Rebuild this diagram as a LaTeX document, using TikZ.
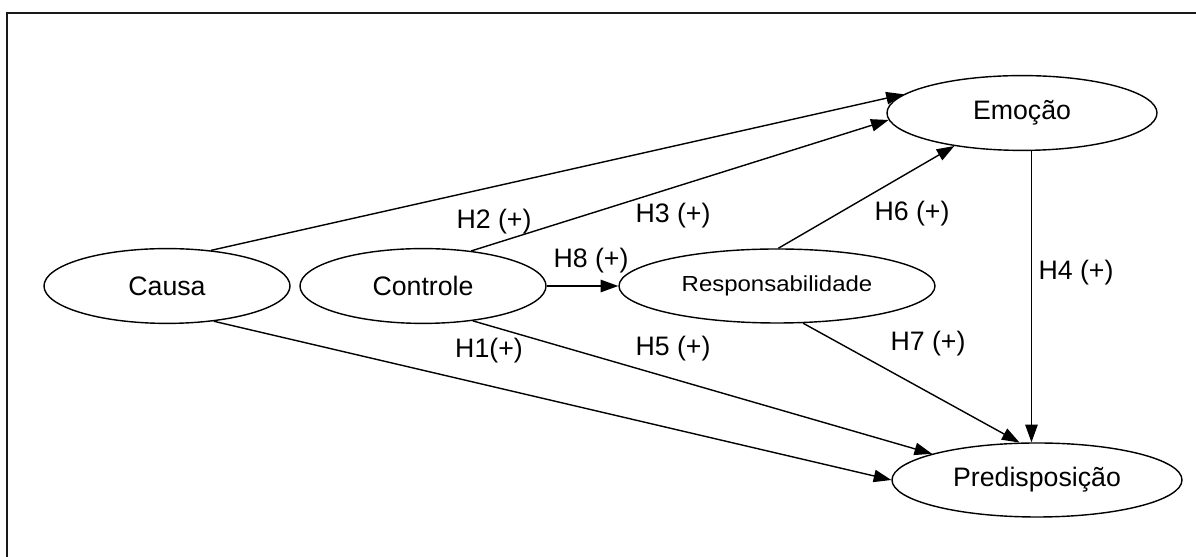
\documentclass[tikz,border=0pt]{standalone}
\usepackage{fontspec}
\setmainfont{Liberation Sans}
\newfontfamily\respfont[FakeStretch=1.1]{Liberation Sans}
\usetikzlibrary{arrows.meta, positioning, shapes.geometric}

\begin{document}
\begin{tikzpicture}[
    construct/.style={draw, ellipse, line width=1pt, inner sep=0pt,
      minimum height=1.87cm, font=\fontsize{19}{22}\selectfont},
    hyp/.style={line width=1pt, -{Triangle[length=0.44cm, width=0.31cm]}},
    hlabel/.style={font=\fontsize{19}{22}\selectfont, inner sep=0pt}
  ]
  \useasboundingbox (0,0) rectangle (29.9,13.925);
  \clip (0,0) rectangle (29.9,13.925);
  \draw[line width=1.4pt, black!90] (0.175,-1) rectangle (31,13.6);

  % constructs
  \node[construct, minimum width=6.15cm] (causa) at (4.175,6.775) {Causa};
  \node[construct, minimum width=6.15cm] (controle) at (10.575,6.775) {Controle};
  \node[construct, minimum width=7.9cm, minimum height=1.85cm,
    font=\respfont\fontsize{15.5}{18}\selectfont] (resp) at (19.425,6.775) {Responsabilidade};
  \node[construct, minimum width=6.75cm] (emocao) at (25.55,11.1) {Emoção};
  \node[construct, minimum width=7.25cm, minimum height=1.85cm] (predis) at (25.925,1.925) {Predisposição};

  % hypotheses
  \draw[hyp] (causa.39) -- (emocao.171);
  \draw[hyp] (controle.36) -- (emocao.183);
  \draw[hyp] (resp.88) -- (emocao.206);
  \draw[hyp] (controle.east) -- (resp.west);
  \draw[hyp] (emocao.-76) -- (emocao.-76 |- predis.north);
  \draw[hyp] (causa.-37) -- (predis.west);
  \draw[hyp] (controle.-35) -- (predis.166);
  \draw[hyp] (resp.-55) -- (predis.115);

  \node[hlabel] (h1) at (12.225,5.15) {H1(+)};
  \node[hlabel] (h2) at (12.35,8.375) {H2 (+)};
  \node[hlabel] (h3) at (16.825,8.525) {H3 (+)};
  \node[hlabel] (h4) at (26.9,7.1) {H4 (+)};
  \node[hlabel] (h5) at (16.825,5.2) {H5 (+)};
  \node[hlabel] (h6) at (22.8,8.575) {H6 (+)};
  \node[hlabel] (h7) at (23.2,5.325) {H7 (+)};
  \node[hlabel] (h8) at (14.775,7.4) {H8 (+)};
\end{tikzpicture}
\end{document}
